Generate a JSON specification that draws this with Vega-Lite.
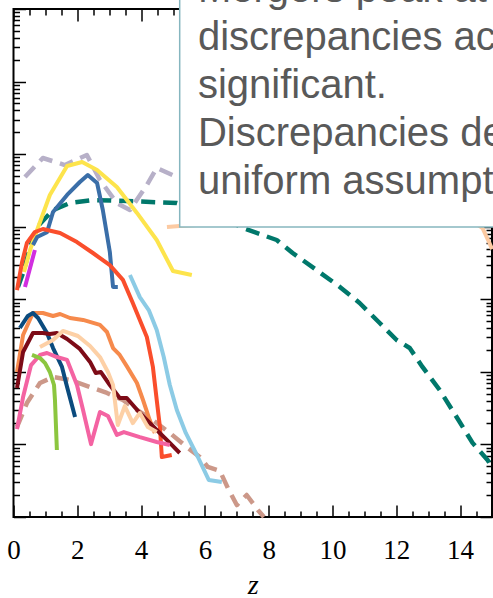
{
  "$schema": "https://vega.github.io/schema/vega-lite/v6.json",
  "width": 478.5,
  "height": 508,
  "autosize": {"type": "none"},
  "padding": {"left": 13.5, "top": 9, "right": 1, "bottom": 81},
  "background": "#ffffff",
  "config": {
    "view": {"stroke": "#000000", "strokeWidth": 2},
    "axis": {"tickColor": "#000000", "tickWidth": 1.5, "grid": false, "domain": false, "title": null}
  },
  "datasets": {
    "curves": [
      {"s": "m01", "z": 0.36, "y": 48.4}, {"s": "m01", "z": 0.92, "y": 88.5}, {"s": "m01", "z": 1.61, "y": 70.8},
      {"s": "m01", "z": 2.30, "y": 97.3}, {"s": "m01", "z": 2.71, "y": 44.0}, {"s": "m01", "z": 3.24, "y": 21.2},
      {"s": "m01", "z": 3.65, "y": 17.0}, {"s": "m01", "z": 4.18, "y": 37.6}, {"s": "m01", "z": 4.49, "y": 64.4},
      {"s": "m01", "z": 5.12, "y": 48.4}, {"s": "m01", "z": 5.6, "y": 45.0},

      {"s": "m02", "z": 0.14, "y": 1.48}, {"s": "m02", "z": 0.30, "y": 2.30}, {"s": "m02", "z": 0.52, "y": 5.25},
      {"s": "m02", "z": 0.74, "y": 9.9}, {"s": "m02", "z": 1.24, "y": 17.0}, {"s": "m02", "z": 1.77, "y": 21.2},
      {"s": "m02", "z": 2.49, "y": 23.3}, {"s": "m02", "z": 3.55, "y": 22.6}, {"s": "m02", "z": 5.12, "y": 21.2},
      {"s": "m02", "z": 6.15, "y": 16.0}, {"s": "m02", "z": 7.19, "y": 9.6}, {"s": "m02", "z": 8.25, "y": 6.56},
      {"s": "m02", "z": 8.75, "y": 4.34}, {"s": "m02", "z": 9.50, "y": 2.53}, {"s": "m02", "z": 10.23, "y": 1.48},
      {"s": "m02", "z": 10.85, "y": 0.889}, {"s": "m02", "z": 11.48, "y": 0.471}, {"s": "m02", "z": 12.01, "y": 0.275},
      {"s": "m02", "z": 12.42, "y": 0.213}, {"s": "m02", "z": 12.82, "y": 0.117}, {"s": "m02", "z": 13.36, "y": 0.0562},
      {"s": "m02", "z": 13.89, "y": 0.0239}, {"s": "m02", "z": 14.39, "y": 0.0105}, {"s": "m02", "z": 14.86, "y": 0.0061},
      {"s": "m02", "z": 14.99, "y": 0.00505},

      {"s": "m03", "z": 0.11, "y": 0.0174}, {"s": "m03", "z": 0.42, "y": 0.0372}, {"s": "m03", "z": 0.83, "y": 0.0702},
      {"s": "m03", "z": 1.24, "y": 0.0849}, {"s": "m03", "z": 1.77, "y": 0.0773}, {"s": "m03", "z": 2.40, "y": 0.0618},
      {"s": "m03", "z": 2.93, "y": 0.0512}, {"s": "m03", "z": 3.43, "y": 0.0409}, {"s": "m03", "z": 3.87, "y": 0.0298},
      {"s": "m03", "z": 4.37, "y": 0.0217}, {"s": "m03", "z": 4.90, "y": 0.0144}, {"s": "m03", "z": 5.43, "y": 0.0092},
      {"s": "m03", "z": 5.84, "y": 0.00671}, {"s": "m03", "z": 6.09, "y": 0.00489}, {"s": "m03", "z": 6.47, "y": 0.00431},
      {"s": "m03", "z": 6.72, "y": 0.00251}, {"s": "m03", "z": 7.00, "y": 0.00146}, {"s": "m03", "z": 7.31, "y": 0.00201},
      {"s": "m03", "z": 7.66, "y": 0.00125}, {"s": "m03", "z": 7.85, "y": 0.001},

      {"s": "m04", "z": 0.33, "y": 2.38}, {"s": "m04", "z": 0.52, "y": 4.78}, {"s": "m04", "z": 0.74, "y": 9.0},
      {"s": "m04", "z": 1.14, "y": 27.4}, {"s": "m04", "z": 1.68, "y": 68.7}, {"s": "m04", "z": 2.15, "y": 78.0},
      {"s": "m04", "z": 2.62, "y": 60.4}, {"s": "m04", "z": 3.24, "y": 35.2}, {"s": "m04", "z": 3.87, "y": 15.5},
      {"s": "m04", "z": 4.49, "y": 6.56}, {"s": "m04", "z": 5.00, "y": 2.45}, {"s": "m04", "z": 5.59, "y": 2.16},

      {"s": "m05", "z": 0.61, "y": 5.6}, {"s": "m05", "z": 0.74, "y": 7.2}, {"s": "m05", "z": 1.05, "y": 8.4},
      {"s": "m05", "z": 1.24, "y": 16.0}, {"s": "m05", "z": 1.68, "y": 27.4}, {"s": "m05", "z": 2.08, "y": 41.3},
      {"s": "m05", "z": 2.33, "y": 51.6}, {"s": "m05", "z": 2.62, "y": 40.0}, {"s": "m05", "z": 2.80, "y": 17.0},
      {"s": "m05", "z": 3.02, "y": 4.48}, {"s": "m05", "z": 3.12, "y": 1.48}, {"s": "m05", "z": 3.27, "y": 1.48},

      {"s": "m06", "z": 0.11, "y": 1.34}, {"s": "m06", "z": 0.27, "y": 3.27}, {"s": "m06", "z": 0.42, "y": 5.97},
      {"s": "m06", "z": 0.67, "y": 8.45}, {"s": "m06", "z": 0.92, "y": 9.3}, {"s": "m06", "z": 1.46, "y": 8.2},
      {"s": "m06", "z": 1.99, "y": 6.15}, {"s": "m06", "z": 2.49, "y": 4.34}, {"s": "m06", "z": 3.02, "y": 2.96},
      {"s": "m06", "z": 3.43, "y": 1.85}, {"s": "m06", "z": 3.74, "y": 0.889}, {"s": "m06", "z": 4.18, "y": 0.302},
      {"s": "m06", "z": 4.37, "y": 0.117}, {"s": "m06", "z": 4.49, "y": 0.0409}, {"s": "m06", "z": 4.59, "y": 0.0174},
      {"s": "m06", "z": 4.65, "y": 0.00671}, {"s": "m06", "z": 4.96, "y": 0.00714},

      {"s": "m07", "z": 0.36, "y": 1.48}, {"s": "m07", "z": 0.67, "y": 4.78},

      {"s": "m08", "z": 4.81, "y": 9.9}, {"s": "m08", "z": 5.21, "y": 10.2}, {"s": "m08", "z": 7.41, "y": 11.6},
      {"s": "m08", "z": 10.54, "y": 11.6}, {"s": "m08", "z": 13.67, "y": 11.6}, {"s": "m08", "z": 14.48, "y": 11.2},
      {"s": "m08", "z": 14.70, "y": 9.6}, {"s": "m08", "z": 14.92, "y": 5.97}, {"s": "m08", "z": 15.0, "y": 4.9},

      {"s": "m09", "z": 3.65, "y": 2.16}, {"s": "m09", "z": 3.96, "y": 1.07}, {"s": "m09", "z": 4.24, "y": 0.711},
      {"s": "m09", "z": 4.49, "y": 0.378}, {"s": "m09", "z": 4.71, "y": 0.160}, {"s": "m09", "z": 4.90, "y": 0.0659},
      {"s": "m09", "z": 5.12, "y": 0.0298}, {"s": "m09", "z": 5.40, "y": 0.0144}, {"s": "m09", "z": 5.78, "y": 0.00671},
      {"s": "m09", "z": 6.12, "y": 0.00324}, {"s": "m09", "z": 6.53, "y": 0.00303},

      {"s": "m10", "z": 0.11, "y": 0.0995}, {"s": "m10", "z": 0.30, "y": 0.322}, {"s": "m10", "z": 0.61, "y": 0.647},
      {"s": "m10", "z": 0.92, "y": 0.647}, {"s": "m10", "z": 1.24, "y": 0.589}, {"s": "m10", "z": 1.46, "y": 0.627},
      {"s": "m10", "z": 1.77, "y": 0.552}, {"s": "m10", "z": 2.18, "y": 0.519}, {"s": "m10", "z": 2.71, "y": 0.443},
      {"s": "m10", "z": 2.93, "y": 0.354}, {"s": "m10", "z": 3.12, "y": 0.213}, {"s": "m10", "z": 3.33, "y": 0.171},
      {"s": "m10", "z": 3.55, "y": 0.120}, {"s": "m10", "z": 3.87, "y": 0.0702}, {"s": "m10", "z": 4.06, "y": 0.0409},
      {"s": "m10", "z": 4.27, "y": 0.0217}, {"s": "m10", "z": 4.43, "y": 0.0144},

      {"s": "m11", "z": 0.20, "y": 0.402}, {"s": "m11", "z": 0.45, "y": 0.589}, {"s": "m11", "z": 0.61, "y": 0.647},
      {"s": "m11", "z": 0.77, "y": 0.552}, {"s": "m11", "z": 1.05, "y": 0.343}, {"s": "m11", "z": 1.24, "y": 0.213},
      {"s": "m11", "z": 1.52, "y": 0.117}, {"s": "m11", "z": 1.68, "y": 0.0618}, {"s": "m11", "z": 1.93, "y": 0.0239},

      {"s": "m12", "z": 0.11, "y": 0.0599}, {"s": "m12", "z": 0.30, "y": 0.188}, {"s": "m12", "z": 0.61, "y": 0.343},
      {"s": "m12", "z": 0.92, "y": 0.343}, {"s": "m12", "z": 1.14, "y": 0.333}, {"s": "m12", "z": 1.36, "y": 0.343},
      {"s": "m12", "z": 1.68, "y": 0.284}, {"s": "m12", "z": 2.08, "y": 0.207}, {"s": "m12", "z": 2.40, "y": 0.137},
      {"s": "m12", "z": 2.58, "y": 0.0964}, {"s": "m12", "z": 2.74, "y": 0.0995}, {"s": "m12", "z": 3.02, "y": 0.0659},
      {"s": "m12", "z": 3.33, "y": 0.0437}, {"s": "m12", "z": 3.55, "y": 0.0437}, {"s": "m12", "z": 3.96, "y": 0.0271},
      {"s": "m12", "z": 4.49, "y": 0.0158}, {"s": "m12", "z": 4.90, "y": 0.0105}, {"s": "m12", "z": 5.21, "y": 0.00762},

      {"s": "m13", "z": 0.83, "y": 0.220}, {"s": "m13", "z": 1.24, "y": 0.275}, {"s": "m13", "z": 1.55, "y": 0.366},
      {"s": "m13", "z": 2.02, "y": 0.312}, {"s": "m13", "z": 2.40, "y": 0.227}, {"s": "m13", "z": 2.71, "y": 0.160},
      {"s": "m13", "z": 2.96, "y": 0.0995}, {"s": "m13", "z": 3.12, "y": 0.0659}, {"s": "m13", "z": 3.27, "y": 0.0185},
      {"s": "m13", "z": 3.49, "y": 0.0338}, {"s": "m13", "z": 3.74, "y": 0.0197}, {"s": "m13", "z": 3.96, "y": 0.0271},
      {"s": "m13", "z": 4.21, "y": 0.0174}, {"s": "m13", "z": 4.49, "y": 0.0148},

      {"s": "m14", "z": 0.11, "y": 0.0163}, {"s": "m14", "z": 0.30, "y": 0.0450}, {"s": "m14", "z": 0.55, "y": 0.124},
      {"s": "m14", "z": 0.83, "y": 0.171}, {"s": "m14", "z": 1.05, "y": 0.182}, {"s": "m14", "z": 1.36, "y": 0.160},
      {"s": "m14", "z": 1.68, "y": 0.146}, {"s": "m14", "z": 1.99, "y": 0.0659}, {"s": "m14", "z": 2.18, "y": 0.0298},
      {"s": "m14", "z": 2.43, "y": 0.0101}, {"s": "m14", "z": 2.71, "y": 0.0280}, {"s": "m14", "z": 2.96, "y": 0.0247},
      {"s": "m14", "z": 3.24, "y": 0.0135}, {"s": "m14", "z": 3.46, "y": 0.0148}, {"s": "m14", "z": 3.96, "y": 0.0126},
      {"s": "m14", "z": 4.49, "y": 0.0108}, {"s": "m14", "z": 4.90, "y": 0.0098},

      {"s": "m15", "z": 0.58, "y": 0.171}, {"s": "m15", "z": 0.83, "y": 0.155}, {"s": "m15", "z": 0.99, "y": 0.132},
      {"s": "m15", "z": 1.14, "y": 0.0995}, {"s": "m15", "z": 1.27, "y": 0.0659}, {"s": "m15", "z": 1.30, "y": 0.0409},
      {"s": "m15", "z": 1.33, "y": 0.0185}, {"s": "m15", "z": 1.36, "y": 0.00838}
    ],
    "box": [{"z1": 5.21, "z2": 16.5, "y1": 9.9, "y2": 30000}],
    "note": [{"z": 5.78, "y": 12300, "t": "Mergers peak at z ≈ 2–3;\ndiscrepancies across\nsignificant.\nDiscrepancies depend\nuniform assumption"}]
  },
  "layer": [
    {
      "data": {"name": "curves"},
      "transform": [{"filter": {"field": "s", "oneOf": ["m01", "m02", "m03"]}}],
      "mark": {"type": "line", "strokeWidth": 4.5, "strokeDash": [14, 8], "strokeJoin": "round"},
      "encoding": {
        "x": {"field": "z", "type": "quantitative", "scale": {"domain": [0, 15], "nice": false, "zero": false},
          "axis": {"orient": "bottom", "values": [0, 2, 4, 6, 8, 10, 12, 14], "tickSize": -12, "labelFlush": false,
            "labelFont": "Liberation Serif", "labelFontSize": 27, "labelColor": "#000000", "labelPadding": 53, "labelBaseline": "alphabetic",
            "title": "z", "titleFont": "Liberation Serif", "titleFontStyle": "italic", "titleFontWeight": "normal", "titleFontSize": 28, "titleColor": "#000000", "titlePadding": 8}},
        "y": {"field": "y", "type": "quantitative", "scale": {"type": "log", "domain": [0.001, 10000], "nice": false},
          "axis": {"orient": "left", "values": [0.001, 0.01, 0.1, 1, 10, 100, 1000, 10000], "tickSize": -12, "labels": false}},
        "color": {"field": "s", "type": "nominal", "legend": null,
          "scale": {"domain": ["m01", "m02", "m03", "m04", "m05", "m06", "m07", "m08", "m09", "m10", "m11", "m12", "m13", "m14", "m15"],
            "range": ["#b7b0c8", "#00786b", "#cc9889", "#fde44c", "#3a6ea8", "#fa4e2c", "#d12fe0", "#fccaa2", "#8ccbe5", "#f68a4c", "#0b4b7e", "#7d0b17", "#fdd0a6", "#f463a2", "#8cc63f"]}}
      }
    },
    {
      "data": {"name": "curves"},
      "transform": [{"filter": {"not": {"field": "s", "oneOf": ["m01", "m02", "m03"]}}}],
      "mark": {"type": "line", "strokeWidth": 4, "strokeJoin": "round"},
      "encoding": {
        "x": {"field": "z", "type": "quantitative", "scale": {"domain": [0, 15], "nice": false, "zero": false},
          "axis": {"orient": "bottom", "values": [0.5, 1, 1.5, 2.5, 3, 3.5, 4.5, 5, 5.5, 6.5, 7, 7.5, 8.5, 9, 9.5, 10.5, 11, 11.5, 12.5, 13, 13.5, 14.5], "tickSize": -6, "labels": false}},
        "y": {"field": "y", "type": "quantitative", "scale": {"type": "log", "domain": [0.001, 10000], "nice": false},
          "axis": {"orient": "left", "tickSize": -6, "labels": false,
            "values": [0.002, 0.003, 0.004, 0.005, 0.006, 0.007, 0.008, 0.009, 0.02, 0.03, 0.04, 0.05, 0.06, 0.07, 0.08, 0.09, 0.2, 0.3, 0.4, 0.5, 0.6, 0.7, 0.8, 0.9, 2, 3, 4, 5, 6, 7, 8, 9, 20, 30, 40, 50, 60, 70, 80, 90, 200, 300, 400, 500, 600, 700, 800, 900, 2000, 3000, 4000, 5000, 6000, 7000, 8000, 9000]}},
        "color": {"field": "s", "type": "nominal", "legend": null,
          "scale": {"domain": ["m01", "m02", "m03", "m04", "m05", "m06", "m07", "m08", "m09", "m10", "m11", "m12", "m13", "m14", "m15"],
            "range": ["#b7b0c8", "#00786b", "#cc9889", "#fde44c", "#3a6ea8", "#fa4e2c", "#d12fe0", "#fccaa2", "#8ccbe5", "#f68a4c", "#0b4b7e", "#7d0b17", "#fdd0a6", "#f463a2", "#8cc63f"]}}
      }
    },
    {
      "data": {"name": "box"},
      "mark": {"type": "rect", "fill": "#ffffff", "stroke": "#86b6bf", "strokeWidth": 1.5},
      "encoding": {
        "x": {"field": "z1", "type": "quantitative", "scale": {"domain": [0, 15], "nice": false, "zero": false},
          "axis": {"orient": "top", "values": [0, 2, 4, 6, 8, 10, 12, 14], "tickSize": -12, "labels": false}},
        "x2": {"field": "z2"},
        "y": {"field": "y1", "type": "quantitative", "scale": {"type": "log", "domain": [0.001, 10000], "nice": false},
          "axis": {"orient": "right", "values": [0.001, 0.01, 0.1, 1, 10, 100, 1000, 10000], "tickSize": -12, "labels": false}},
        "y2": {"field": "y2"}
      }
    },
    {
      "data": {"name": "note"},
      "mark": {"type": "text", "align": "left", "baseline": "alphabetic", "lineBreak": "\n", "lineHeight": 48,
        "font": "Liberation Sans", "fontSize": 40, "color": "#595959"},
      "encoding": {
        "x": {"field": "z", "type": "quantitative", "scale": {"domain": [0, 15], "nice": false, "zero": false},
          "axis": {"orient": "top", "values": [0.5, 1, 1.5, 2.5, 3, 3.5, 4.5, 5, 5.5, 6.5, 7, 7.5, 8.5, 9, 9.5, 10.5, 11, 11.5, 12.5, 13, 13.5, 14.5], "tickSize": -6, "labels": false}},
        "y": {"field": "y", "type": "quantitative", "scale": {"type": "log", "domain": [0.001, 10000], "nice": false},
          "axis": {"orient": "right", "tickSize": -6, "labels": false,
            "values": [0.002, 0.003, 0.004, 0.005, 0.006, 0.007, 0.008, 0.009, 0.02, 0.03, 0.04, 0.05, 0.06, 0.07, 0.08, 0.09, 0.2, 0.3, 0.4, 0.5, 0.6, 0.7, 0.8, 0.9, 2, 3, 4, 5, 6, 7, 8, 9, 20, 30, 40, 50, 60, 70, 80, 90, 200, 300, 400, 500, 600, 700, 800, 900, 2000, 3000, 4000, 5000, 6000, 7000, 8000, 9000]}},
        "text": {"field": "t", "type": "nominal"}
      }
    }
  ],
  "resolve": {"axis": {"x": "independent", "y": "independent"}}
}
